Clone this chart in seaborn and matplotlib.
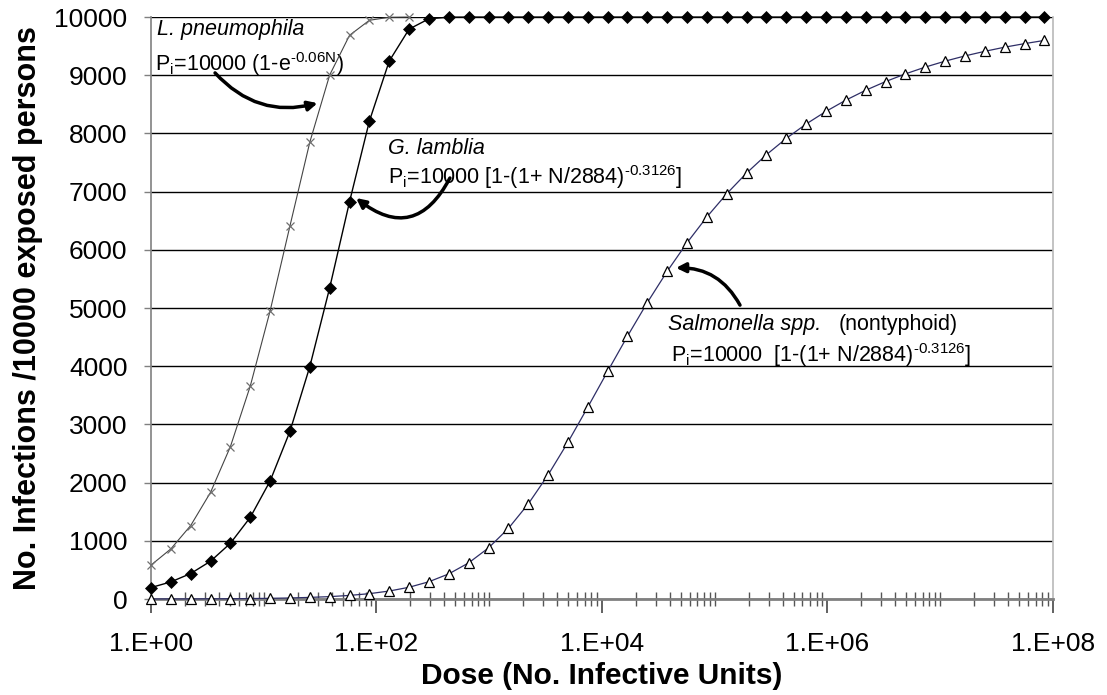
import matplotlib
matplotlib.use("Agg")
import matplotlib.pyplot as plt
import seaborn as sns
import pandas as pd
from matplotlib.ticker import LogLocator, NullFormatter

# dose values (each step x1.5)
dose = [1, 1.5, 2.25, 3.375, 5.0625, 7.594, 11.39, 17.09, 25.63, 38.44,
        57.67, 86.5, 129.7, 194.6, 291.9, 437.9, 656.8, 985.3, 1478, 2217,
        3325, 4988, 7482, 11223, 16834, 25251, 37877, 56815, 85223, 127834,
        191751, 287627, 431440, 647160, 970740, 1456110, 2184164, 3276247,
        4914370, 7371555, 11057332, 16585998, 24878997, 37318496, 55977744,
        83966616]

legionella = [582, 861, 1263, 1833, 2619, 3659, 4951, 6413, 7851, 9004,
              9686, 9944, 9996, 10000]

giardia = [197, 294, 438, 650, 958, 1403, 2028, 2883, 3995, 5347,
           6826, 8212, 9243, 9792, 9970, 9998] + [10000] * 30

salmonella = [1, 2, 2, 4, 5, 8, 12, 18, 28, 41,
              62, 92, 137, 202, 297, 432, 621, 878, 1213, 1633,
              2132, 2694, 3297, 3912, 4517, 5094, 5631, 6122, 6566, 6964,
              7320, 7635, 7915, 8162, 8379, 8572, 8742, 8891, 9023, 9140,
              9242, 9332, 9411, 9482, 9543, 9598]

x_major = [1, 1e2, 1e4, 1e6, 1e8]
x_labels = ["1.E+00", "1.E+02", "1.E+04", "1.E+06", "1.E+08"]
y_ticks = list(range(0, 10001, 1000))

df_leg = pd.DataFrame({"dose": dose[:len(legionella)], "p": legionella})
df_gia = pd.DataFrame({"dose": dose, "p": giardia})
df_sal = pd.DataFrame({"dose": dose, "p": salmonella})

sns.set_theme(style="white")
plt.rcParams["font.family"] = ["Liberation Sans", "DejaVu Sans"]
plt.rcParams["mathtext.fontset"] = "custom"
plt.rcParams["mathtext.rm"] = "Liberation Sans"
plt.rcParams["mathtext.it"] = "Liberation Sans:italic"
plt.rcParams["text.color"] = "black"
plt.rcParams["axes.labelcolor"] = "black"
plt.rcParams["xtick.color"] = "black"
plt.rcParams["ytick.color"] = "black"

fig = plt.figure(figsize=(11.07, 6.95), dpi=100)
ax = fig.add_axes([0.1364, 0.1381, 0.8148, 0.8374])

sns.lineplot(data=df_sal, x="dose", y="p", ax=ax, color="#2e2e66", linewidth=0.9,
             marker="^", markersize=7, markerfacecolor="white",
             markeredgecolor="black", markeredgewidth=0.9, clip_on=False, zorder=3)
sns.lineplot(data=df_leg, x="dose", y="p", ax=ax, color="#444444", linewidth=0.8,
             marker="x", markersize=6, markeredgecolor="#707070",
             markeredgewidth=0.9, clip_on=False, zorder=4)
sns.lineplot(data=df_gia, x="dose", y="p", ax=ax, color="black", linewidth=1.0,
             marker="D", markersize=6.5, markerfacecolor="black",
             markeredgecolor="black", markeredgewidth=0.5, clip_on=False, zorder=5)

ax.set_xscale("log")
ax.set_xlim(1, 1e8)
ax.set_ylim(0, 10000)
ax.set_xticks(x_major, x_labels)
ax.xaxis.set_minor_locator(LogLocator(base=10, subs=range(1, 10), numticks=100))
ax.xaxis.set_minor_formatter(NullFormatter())
ax.set_yticks(y_ticks, [str(v) for v in y_ticks])

ax.yaxis.grid(True, color="black", linewidth=1.0)
ax.set_axisbelow(True)

for side in ["left", "bottom"]:
    ax.spines[side].set_color("#808080")
ax.spines["bottom"].set_linewidth(2)
ax.spines["left"].set_linewidth(1.2)
ax.spines["right"].set_color("#bbbbbb")
ax.spines["top"].set_visible(False)

ax.tick_params(axis="y", direction="out", length=5, width=1, color="#808080",
               labelcolor="black", labelsize=19, pad=12, left=True)
ax.tick_params(axis="x", which="major", direction="out", length=10, width=1.3,
               color="#555555", labelcolor="black", labelsize=19, pad=14, bottom=True)
ax.tick_params(axis="x", which="minor", direction="inout", length=10, width=1,
               color="#555555", bottom=True)

ax.set_xlabel("Dose (No. Infective Units)", fontsize=21.5, fontweight="bold", labelpad=4)
ax.set_ylabel("No. Infections /10000 exposed persons", fontsize=22,
              fontweight="bold", labelpad=8)

# annotations
ax.text(1.13, 9960, "L. pneumophila", fontsize=15.5, style="italic", va="top")
ax.text(1.09, 9430, "P$_{\\mathregular{i}}$=10000 (1-e$^{\\mathregular{\u20100.06N}}$)",
        fontsize=15.5, va="top")
ax.annotate("", xy=(30, 8520), xytext=(3.7, 9040),
            arrowprops=dict(arrowstyle="-|>", color="black", lw=2.5,
                            mutation_scale=14, connectionstyle="arc3,rad=0.3",
                            shrinkA=0, shrinkB=0))

ax.text(126, 7920, "G. lamblia", fontsize=15.5, style="italic", va="top")
ax.text(126, 7490, "P$_{\\mathregular{i}}$=10000 [1-(1+ N/2884)$^{\\mathregular{\u20100.3126}}$]",
        fontsize=15.5, va="top")
ax.annotate("", xy=(66, 6890), xytext=(448, 7234),
            arrowprops=dict(arrowstyle="-|>", color="black", lw=2.5,
                            mutation_scale=14, connectionstyle="arc3,rad=-0.6",
                            shrinkA=0, shrinkB=0))

ax.text(38500, 4900, "Salmonella spp.", fontsize=15.5, style="italic", va="top")
ax.text(1.25e6, 4900, "(nontyphoid)", fontsize=15.5, va="top")
ax.text(41000, 4440, "P$_{\\mathregular{i}}$=10000  [1-(1+ N/2884)$^{\\mathregular{\u20100.3126}}$]",
        fontsize=15.5, va="top")
ax.annotate("", xy=(45300, 5690), xytext=(167500, 5050),
            arrowprops=dict(arrowstyle="-|>", color="black", lw=2.5,
                            mutation_scale=14, connectionstyle="arc3,rad=0.3",
                            shrinkA=0, shrinkB=0))

fig.savefig("out.png", dpi=100)
